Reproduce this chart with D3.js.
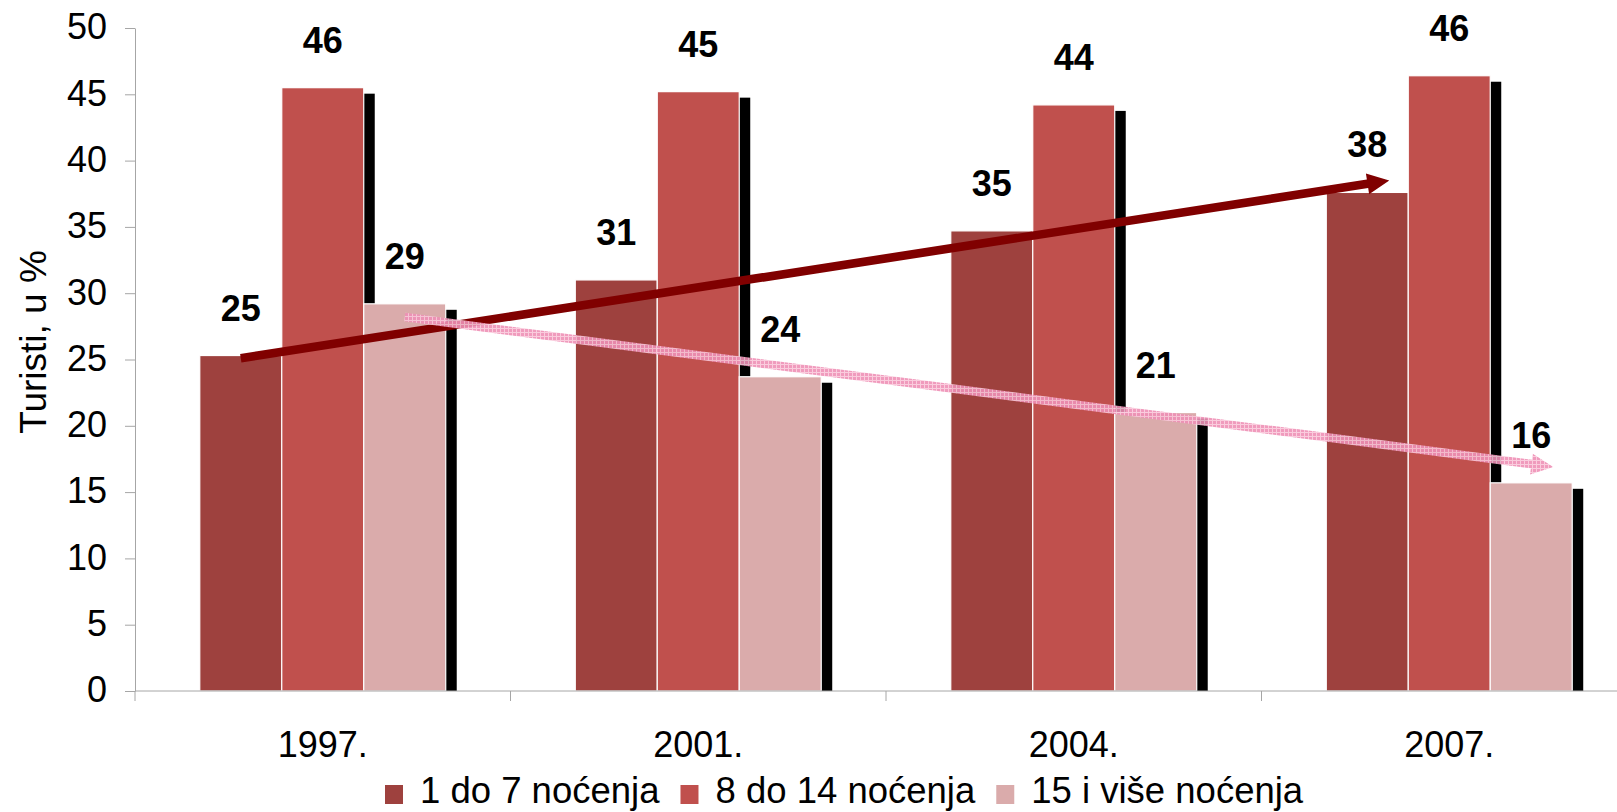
<!DOCTYPE html>
<html>
<head>
    <meta charset="utf-8">
    <title>Turisti po broju noćenja</title>
    <script src="https://d3js.org/d3.v7.min.js"></script>
    <style>
        body {
            margin: 0;
            padding: 0;
            overflow: hidden;
            background: #fff;
        }

        svg text {
            font-family: "Liberation Sans", Arial, sans-serif;
            fill: #000;
        }
    </style>
</head>
<body>
    <script>
        // data
        var categories = ["1997.", "2001.", "2004.", "2007."];
        var seriesNames = ["1 do 7 noćenja", "8 do 14 noćenja", "15 i više noćenja"];
        var shortStay = [25.3, 31.0, 34.7, 37.6];
        var midStay = [45.5, 45.2, 44.2, 46.4];
        var longStay = [29.2, 23.7, 21.0, 15.7];
        var yTicks = [0, 5, 10, 15, 20, 25, 30, 35, 40, 45, 50];

        // trend arrows: series they follow, value at the start (1997) and at the tip (2007)
        var trendSeries = [0, 2];
        var trendStart = [25.1, 28.2];
        var trendEnd = [38.5, 16.9];

        var colors = ["#9E413E", "#C0504D", "#DAABAB"];

        var width = 1617,
            height = 812;

        var svg = d3.select("body").append("svg")
            .attr("width", width)
            .attr("height", height);

        var defs = svg.append("defs");
        var pat = defs.append("pattern")
            .attr("id", "pinkHatch")
            .attr("patternUnits", "userSpaceOnUse")
            .attr("width", 4)
            .attr("height", 4);
        pat.append("rect").attr("width", 4).attr("height", 4).attr("fill", "#EE90B6");
        pat.append("path").attr("d", "M0,0.5H4M0.5,0V4")
            .attr("stroke", "#F9C6D9").attr("stroke-width", 1);

        var series = [shortStay, midStay, longStay];
        var rows = [];
        categories.forEach(function (c, i) {
            series.forEach(function (s, j) {
                rows.push({ cat: c, s: j, v: s[i] });
            });
        });

        var x0 = d3.scaleBand()
            .domain(categories)
            .range([135, 1637]);

        var x1 = d3.scaleBand()
            .domain(d3.range(seriesNames.length))
            .range([0, x0.bandwidth()])
            .paddingOuter(0.79);

        var y = d3.scaleLinear()
            .domain([0, 50])
            .range([691, 28]);

        var axisColor = "#A6A6A6";

        // y axis
        var yAxis = svg.append("g")
            .attr("transform", "translate(135,0)")
            .call(d3.axisLeft(y).tickValues(yTicks).tickSize(10).tickSizeOuter(0).tickPadding(18));
        yAxis.select(".domain").attr("stroke", axisColor);
        yAxis.selectAll(".tick line").attr("stroke", axisColor);
        yAxis.selectAll(".tick text")
            .attr("font-size", 36)
            .attr("font-family", "Liberation Sans, Arial, sans-serif")
            .attr("dy", "0.30em");

        svg.append("text")
            .attr("transform", "translate(46,342) rotate(-90)")
            .attr("text-anchor", "middle")
            .attr("font-size", 37)
            .text("Turisti, u %");

        // shadows behind the bars
        var dx = 11, dy = 6;
        svg.append("g").selectAll("rect")
            .data(rows)
            .join("rect")
            .attr("x", d => x0(d.cat) + x1(d.s) + dx)
            .attr("y", d => y(d.v) + dy)
            .attr("width", x1.bandwidth())
            .attr("height", d => y(0) - y(d.v) - dy)
            .attr("fill", "#000");

        svg.append("g").selectAll("rect")
            .data(rows)
            .join("rect")
            .attr("x", d => x0(d.cat) + x1(d.s))
            .attr("y", d => y(d.v))
            .attr("width", x1.bandwidth())
            .attr("height", d => y(0) - y(d.v))
            .attr("fill", d => colors[d.s])
            .attr("stroke", "#fff")
            .attr("stroke-width", 1.2);

        // x axis line + category boundary ticks
        var xa = svg.append("g");
        xa.append("line")
            .attr("x1", 135).attr("x2", width)
            .attr("y1", y(0)).attr("y2", y(0))
            .attr("stroke", axisColor);
        xa.selectAll(".bt")
            .data(categories.concat(["end"]))
            .join("line")
            .attr("class", "bt")
            .attr("x1", (d, i) => x0.range()[0] + i * x0.step())
            .attr("x2", (d, i) => x0.range()[0] + i * x0.step())
            .attr("y1", y(0)).attr("y2", y(0) + 10)
            .attr("stroke", axisColor);
        xa.selectAll("text")
            .data(categories)
            .join("text")
            .attr("x", d => x0(d) + x0.bandwidth() / 2)
            .attr("y", 757)
            .attr("text-anchor", "middle")
            .attr("font-size", 36)
            .text(d => d);

        // trend arrows
        function arrowPath(ax, ay, bx, by, half, headHalf, headLen) {
            var L = Math.hypot(bx - ax, by - ay),
                ux = (bx - ax) / L, uy = (by - ay) / L,
                nx = -uy, ny = ux,
                hx = bx - ux * headLen, hy = by - uy * headLen;
            var pts = [
                [ax + nx * half, ay + ny * half],
                [hx + nx * half, hy + ny * half],
                [hx + nx * headHalf, hy + ny * headHalf],
                [bx, by],
                [hx - nx * headHalf, hy - ny * headHalf],
                [hx - nx * half, hy - ny * half],
                [ax - nx * half, ay - ny * half]
            ];
            return "M" + pts.map(p => p.join(",")).join("L") + "Z";
        }

        var reach = 22;
        var arrowFills = ["#800000", "url(#pinkHatch)"];
        var arrowOpacity = [1, 0.9];
        trendSeries.forEach(function (s, k) {
            var first = categories[0], last = categories[categories.length - 1];
            var ax = x0(first) + x1(s) + x1.bandwidth() / 2,
                bx = x0(last) + x1(s) + x1.bandwidth() / 2 + reach;
            svg.append("path")
                .attr("d", arrowPath(ax, y(trendStart[k]), bx, y(trendEnd[k]), 4.3, 10.5, 22))
                .attr("fill", arrowFills[k])
                .attr("opacity", arrowOpacity[k]);
        });

        // value labels
        svg.append("g").selectAll("text")
            .data(rows)
            .join("text")
            .attr("x", d => x0(d.cat) + x1(d.s) + x1.bandwidth() / 2)
            .attr("y", d => y(d.v) - 35)
            .attr("text-anchor", "middle")
            .attr("font-size", 36)
            .attr("font-weight", "bold")
            .text(d => Math.round(d.v));

        // legend
        var lg = svg.append("g");
        var lx = 385;
        seriesNames.forEach(function (name, i) {
            lg.append("rect")
                .attr("x", lx).attr("y", 785)
                .attr("width", 18).attr("height", 19)
                .attr("fill", colors[i]);
            var t = lg.append("text")
                .attr("x", lx + 35).attr("y", 803)
                .attr("font-size", 36.5)
                .text(name);
            lx += 35 + t.node().getComputedTextLength() + 21;
        });
    </script>
</body>
</html>
